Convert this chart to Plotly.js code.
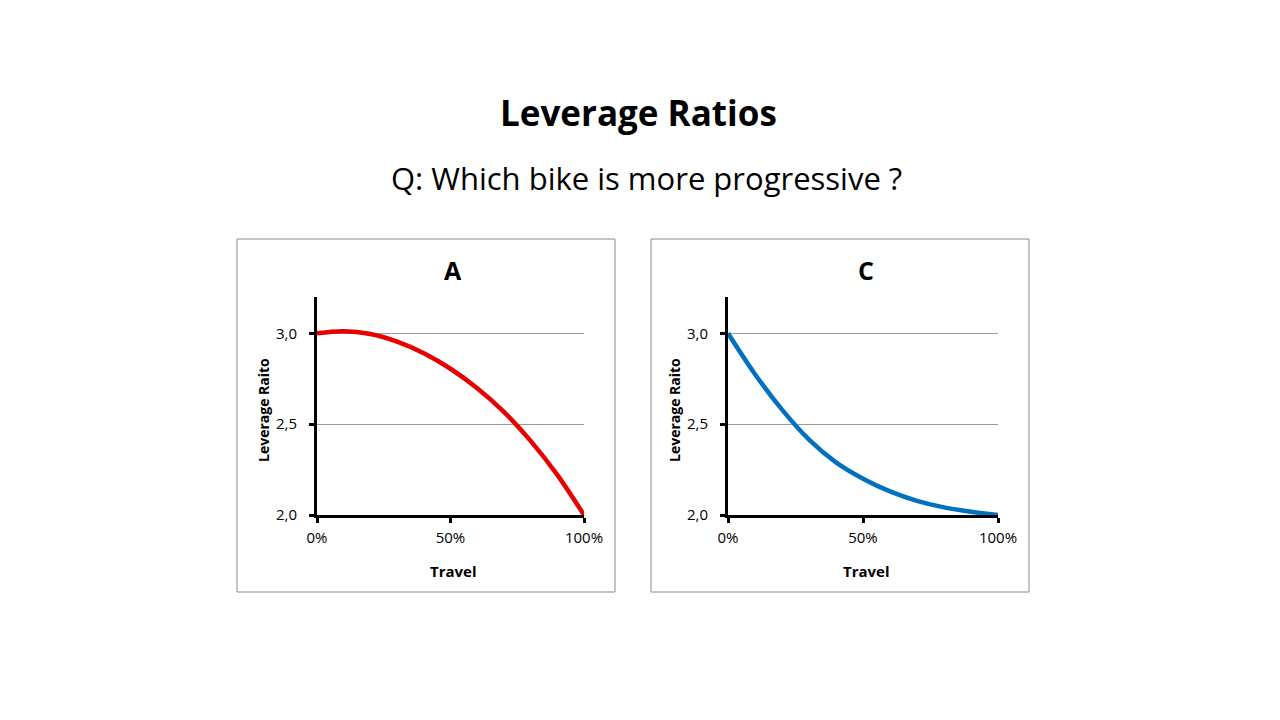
<!DOCTYPE html>
<html>
<head>
<meta charset="utf-8">
<script src="https://cdn.plot.ly/plotly-3.0.1.min.js"></script>
<style>
  html, body { margin: 0; padding: 0; background: #ffffff; }
  #chart { width: 1280px; height: 720px; }
</style>
</head>
<body>
<div id="chart"></div>
<script>
// Travel (fraction of full stroke) and leverage ratio for each bike
const travelA = [0, 0.1, 0.2, 0.3, 0.4, 0.5, 0.6, 0.7, 0.8, 0.9, 1.0];
const ratioA  = [3.000, 3.012, 2.996, 2.954, 2.890, 2.805, 2.698, 2.568, 2.408, 2.221, 2.000];

const travelC = [0, 0.1, 0.2, 0.3, 0.4, 0.5, 0.6, 0.7, 0.8, 0.9, 1.0];
const ratioC  = [3.000, 2.775, 2.580, 2.415, 2.290, 2.200, 2.130, 2.078, 2.042, 2.018, 2.000];

const panelTitles = ["A", "C"];
const xTickVals = [0, 0.5, 1];
const xTickText = ["0%", "50%", "100%"];
const yTickVals = [2.0, 2.5, 3.0];
const yTickText = ["2,0", "2,5", "3,0"];

const mainTitle = "Leverage Ratios";
const subTitle = "Q: Which bike is more progressive ?";
const xTitle = "Travel";
const yTitle = "Leverage Raito";

const W = 1280, H = 720;
const FONT = "'Open Sans', Lato, sans-serif";

// pixel helpers -> paper fractions
const px = v => v / W;
const py = v => 1 - v / H;

// plot-area pixel boxes for the two panels
const panels = [
  { x0: 317, x1: 584, yTop: 297, yBot: 515, box: [237, 239, 615, 592], titleX: 453, color: "#e60000" },
  { x0: 728, x1: 998, yTop: 297, yBot: 515, box: [651, 239, 1029, 592], titleX: 866, color: "#0070c0" }
];

const traces = [
  { x: travelA, y: ratioA, xaxis: "x", yaxis: "y" },
  { x: travelC, y: ratioC, xaxis: "x2", yaxis: "y2" }
].map((t, i) => Object.assign(t, {
  type: "scatter",
  mode: "lines",
  line: { color: panels[i].color, width: 4.5, shape: "spline", smoothing: 1 },
  hoverinfo: "skip",
  showlegend: false,
  cliponaxis: false
}));

function xAxis(p, anchor) {
  return {
    domain: [px(p.x0), px(p.x1)],
    anchor: anchor,
    range: [0, 1],
    fixedrange: true,
    showgrid: false,
    zeroline: false,
    showline: true,
    linecolor: "#000000",
    linewidth: 3,
    ticks: "outside",
    ticklen: 5,
    tickwidth: 3,
    tickcolor: "#000000",
    ticklabelstandoff: 2,
    tickvals: xTickVals,
    ticktext: xTickText,
    tickfont: { family: FONT, size: 15, color: "#000000" }
  };
}

function yAxis(p, anchor) {
  return {
    domain: [py(p.yBot), py(p.yTop)],
    anchor: anchor,
    range: [2, 3.2],
    fixedrange: true,
    showgrid: true,
    gridcolor: "#9a9a9a",
    gridwidth: 1,
    zeroline: false,
    showline: true,
    linecolor: "#000000",
    linewidth: 3,
    ticks: "outside",
    ticklen: 5,
    tickwidth: 3,
    tickcolor: "#000000",
    ticklabelstandoff: 9,
    tickvals: yTickVals,
    ticktext: yTickText,
    tickfont: { family: FONT, size: 15, color: "#000000" }
  };
}

// thin grey frame round each panel
const shapes = panels.map(p => ({
  type: "rect", xref: "paper", yref: "paper",
  x0: px(p.box[0]), x1: px(p.box[2]), y0: py(p.box[3]), y1: py(p.box[1]),
  line: { color: "#8c8c8c", width: 1 },
  fillcolor: "rgba(0,0,0,0)",
  layer: "below"
}));

const annotations = [
  { text: "<b>" + mainTitle + "</b>", x: px(638), y: py(112), font: { family: FONT, size: 35, color: "#000000" } },
  { text: subTitle, x: px(646), y: py(178), font: { family: FONT, size: 31, color: "#000000" } }
];
panels.forEach((p, i) => {
  annotations.push({ text: "<b>" + panelTitles[i] + "</b>", x: px(p.titleX), y: py(270), font: { family: FONT, size: 25, color: "#000000" } });
  annotations.push({ text: "<b>" + xTitle + "</b>", x: px((p.x0 + p.x1) / 2 + 3), y: py(571), font: { family: FONT, size: 15, color: "#000000" } });
  annotations.push({ text: "<b>" + yTitle + "</b>", x: px(p.x0 - 54), y: py(410), textangle: -90, font: { family: FONT, size: 14, color: "#000000" } });
});
annotations.forEach(a => Object.assign(a, { xref: "paper", yref: "paper", showarrow: false, xanchor: "center", yanchor: "middle" }));

const layout = {
  width: W, height: H,
  margin: { l: 0, r: 0, t: 0, b: 0, pad: 0 },
  paper_bgcolor: "#ffffff",
  plot_bgcolor: "rgba(0,0,0,0)",
  showlegend: false,
  xaxis: xAxis(panels[0], "y"),
  yaxis: yAxis(panels[0], "x"),
  xaxis2: xAxis(panels[1], "y2"),
  yaxis2: yAxis(panels[1], "x2"),
  shapes: shapes,
  annotations: annotations
};

Plotly.newPlot("chart", traces, layout, { staticPlot: true, displayModeBar: false });
</script>
</body>
</html>
